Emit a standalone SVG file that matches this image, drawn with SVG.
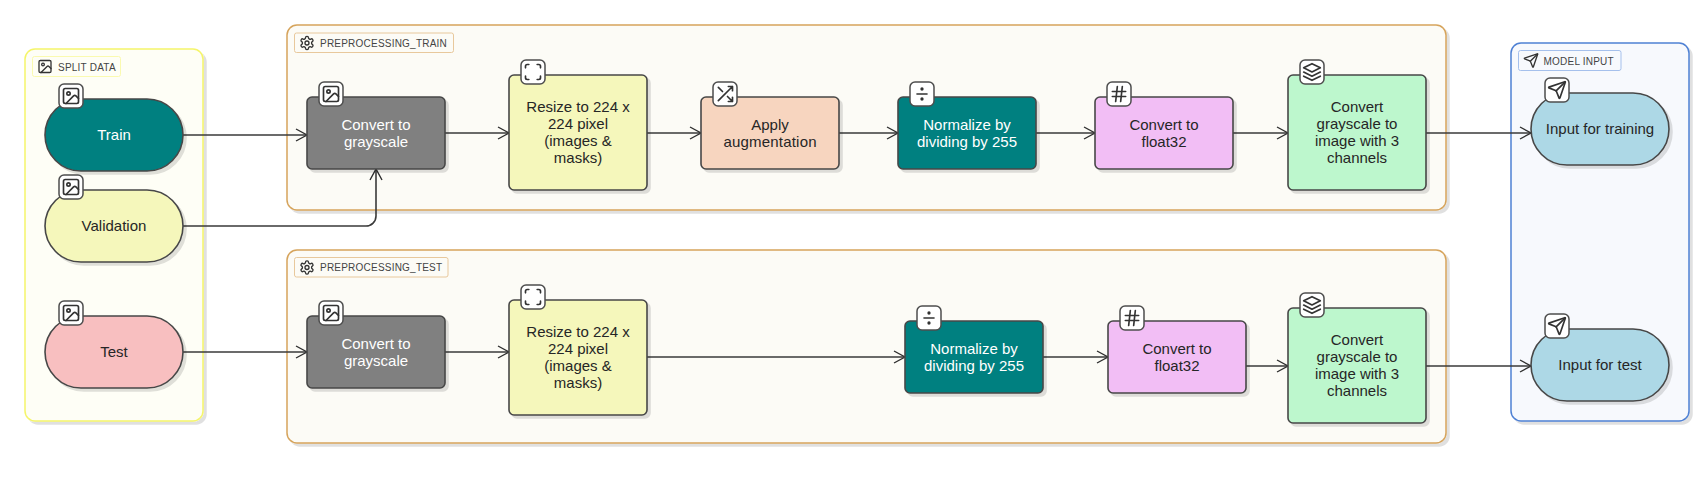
<svg xmlns="http://www.w3.org/2000/svg" width="1704" height="488" viewBox="0 0 1704 488">
<style>
text{font-family:"Liberation Sans",Arial,sans-serif}
.t{font-size:15px;fill:#262626;text-anchor:middle}
.w{fill:#fff}
.gl{font-size:10px;fill:#444;letter-spacing:.22px}
.n{stroke:#474747;stroke-width:1.6;filter:url(#sh)}
.g{stroke-width:1.5;filter:url(#sh)}
.l{stroke-width:1;}
.ib{fill:#fff;stroke:#4d4d4d;stroke-width:1.5}
.ic{fill:none;stroke:#333;stroke-width:2;stroke-linecap:round;stroke-linejoin:round}
.e{fill:none;stroke:#3a3a3a;stroke-width:1.6;marker-end:url(#a)}
</style>
<defs>
<filter id="sh" x="-5%" y="-5%" width="112%" height="112%"><feDropShadow dx="3" dy="3" stdDeviation="0.6" flood-color="#000" flood-opacity="0.12"/></filter>
<marker id="a" markerUnits="userSpaceOnUse" markerWidth="14" markerHeight="16" refX="12" refY="7" orient="auto"><path d="M1 1 L12 7 L1 13" fill="none" stroke="#2e2e2e" stroke-width="1.4"/></marker>
<symbol id="i-image" viewBox="0 0 24 24"><g class="ic"><rect x="3" y="3" width="18" height="18" rx="2"/><circle cx="9" cy="9" r="2"/><path d="m21 15-3.086-3.086a2 2 0 0 0-2.828 0L6 21"/></g></symbol>
<symbol id="i-scan" viewBox="0 0 24 24"><g class="ic"><path d="M3 7V5a2 2 0 0 1 2-2h2M17 3h2a2 2 0 0 1 2 2v2M21 17v2a2 2 0 0 1-2 2h-2M7 21H5a2 2 0 0 1-2-2v-2"/></g></symbol>
<symbol id="i-shuffle" viewBox="0 0 24 24"><g class="ic"><path d="M16 3h5v5M4 20 21 3M21 16v5h-5M15 15l6 6M4 4l5 5"/></g></symbol>
<symbol id="i-divide" viewBox="0 0 24 24"><g class="ic"><path d="M6 12h12"/><circle cx="12" cy="6" r="1"/><circle cx="12" cy="18" r="1"/></g></symbol>
<symbol id="i-hash" viewBox="0 0 24 24"><g class="ic"><path d="M4 9h16M4 15h16M10 3 8 21M16 3l-2 18"/></g></symbol>
<symbol id="i-layers" viewBox="0 0 24 24"><g class="ic"><path d="M12 2 2 7l10 5 10-5-10-5zM2 17l10 5 10-5M2 12l10 5 10-5"/></g></symbol>
<symbol id="i-send" viewBox="0 0 24 24"><g class="ic"><path d="M14.536 21.686a.5.5 0 0 0 .937-.024l6.5-19a.496.496 0 0 0-.635-.635l-19 6.5a.5.5 0 0 0-.024.937l7.93 3.18a2 2 0 0 1 1.112 1.11z"/><path d="m21.854 2.147-10.94 10.939"/></g></symbol>
<symbol id="i-gear" viewBox="0 0 24 24"><g class="ic"><path d="M12.22 2h-.44a2 2 0 0 0-2 2v.18a2 2 0 0 1-1 1.73l-.43.25a2 2 0 0 1-2 0l-.15-.08a2 2 0 0 0-2.73.73l-.22.38a2 2 0 0 0 .73 2.73l.15.1a2 2 0 0 1 1 1.72v.51a2 2 0 0 1-1 1.74l-.15.09a2 2 0 0 0-.73 2.73l.22.38a2 2 0 0 0 2.73.73l.15-.08a2 2 0 0 1 2 0l.43.25a2 2 0 0 1 1 1.73V20a2 2 0 0 0 2 2h.44a2 2 0 0 0 2-2v-.18a2 2 0 0 1 1-1.73l.43-.25a2 2 0 0 1 2 0l.15.08a2 2 0 0 0 2.73-.73l.22-.39a2 2 0 0 0-.73-2.73l-.15-.08a2 2 0 0 1-1-1.74v-.5a2 2 0 0 1 1-1.74l.15-.09a2 2 0 0 0 .73-2.73l-.22-.38a2 2 0 0 0-2.73-.73l-.15.08a2 2 0 0 1-2 0l-.43-.25a2 2 0 0 1-1-1.73V4a2 2 0 0 0-2-2z"/><circle cx="12" cy="12" r="3"/></g></symbol>
</defs>

<g id="group-split-data">
<rect class="g" x="25" y="49" width="178" height="372" rx="10" fill="#fefef6" stroke="#f5f56a"/>
<rect class="l" x="32.5" y="56.5" width="88" height="20" rx="2" fill="#fefef6" stroke="#fafab0"/>
<use href="#i-image" x="37" y="58.5" width="16" height="16"/>
<text class="gl" x="58" y="70.5">SPLIT DATA</text>
</g>
<g id="group-preprocessing-train">
<rect class="g" x="287" y="25" width="1159" height="185" rx="10" fill="#fcfbf6" stroke="#d6a45c"/>
<rect class="l" x="294.5" y="33" width="159" height="19.5" rx="2" fill="#fcfbf6" stroke="#e8c89c"/>
<use href="#i-gear" x="299" y="35" width="16" height="16"/>
<text class="gl" x="320" y="46.5">PREPROCESSING_TRAIN</text>
</g>
<g id="group-preprocessing-test">
<rect class="g" x="287" y="250" width="1159" height="193" rx="10" fill="#fcfbf6" stroke="#d6a45c"/>
<rect class="l" x="294.5" y="257.5" width="153.5" height="19.5" rx="2" fill="#fcfbf6" stroke="#e8c89c"/>
<use href="#i-gear" x="299" y="259.5" width="16" height="16"/>
<text class="gl" x="320" y="271">PREPROCESSING_TEST</text>
</g>
<g id="group-model-input">
<rect class="g" x="1511" y="43" width="178" height="378" rx="10" fill="#f7f9fd" stroke="#4f81d4"/>
<rect class="l" x="1518.5" y="50.5" width="102.5" height="20" rx="2" fill="#f7f9fd" stroke="#a5c0ec"/>
<use href="#i-send" x="1523" y="52.5" width="16" height="16"/>
<text class="gl" x="1543.5" y="64.5">MODEL INPUT</text>
</g>

<g id="connectors">
<path class="e" d="M183 135H307"/>
<path class="e" d="M183 226H366a10 10 0 0 0 10-10V169"/>
<path class="e" d="M183 352H307"/>
<path class="e" d="M445 133H509"/>
<path class="e" d="M647 133H701"/>
<path class="e" d="M839 133H898"/>
<path class="e" d="M1036 133H1095"/>
<path class="e" d="M1233 133H1288"/>
<path class="e" d="M1426 133H1531"/>
<path class="e" d="M445 352H509"/>
<path class="e" d="M647 357H905"/>
<path class="e" d="M1043 357H1108"/>
<path class="e" d="M1246 366H1288"/>
<path class="e" d="M1426 366H1531"/>
</g>

<g id="node-train"><rect class="n" x="45" y="99" width="138" height="72" rx="36" fill="#008080"/><rect class="ib" x="59" y="84" width="24" height="24" rx="5"/><use href="#i-image" x="61" y="86" width="20" height="20"/><text class="t w" x="114" y="140">Train</text></g>
<g id="node-validation"><rect class="n" x="45" y="190" width="138" height="72" rx="36" fill="#f5f7bb"/><rect class="ib" x="59" y="175" width="24" height="24" rx="5"/><use href="#i-image" x="61" y="177" width="20" height="20"/><text class="t" x="114" y="231">Validation</text></g>
<g id="node-test"><rect class="n" x="45" y="316" width="138" height="72" rx="36" fill="#f8bfc0"/><rect class="ib" x="59" y="301" width="24" height="24" rx="5"/><use href="#i-image" x="61" y="303" width="20" height="20"/><text class="t" x="114" y="357">Test</text></g>

<g id="node-train-gray"><rect class="n" x="307" y="97" width="138" height="72" rx="5" fill="#808080"/><rect class="ib" x="319" y="82" width="24" height="24" rx="5"/><use href="#i-image" x="321" y="84" width="20" height="20"/><text class="t w" x="376" y="130">Convert to</text><text class="t w" x="376" y="147">grayscale</text></g>
<g id="node-train-resize"><rect class="n" x="509" y="75" width="138" height="115" rx="5" fill="#f5f7bb"/><rect class="ib" x="521" y="60" width="24" height="24" rx="5"/><use href="#i-scan" x="523" y="62" width="20" height="20"/><text class="t" x="578" y="112">Resize to 224 x</text><text class="t" x="578" y="129">224 pixel</text><text class="t" x="578" y="146">(images &amp;</text><text class="t" x="578" y="163">masks)</text></g>
<g id="node-train-augment"><rect class="n" x="701" y="97" width="138" height="72" rx="5" fill="#f7d5bf"/><rect class="ib" x="713" y="82" width="24" height="24" rx="5"/><use href="#i-shuffle" x="715" y="84" width="20" height="20"/><text class="t" x="770" y="130">Apply</text><text class="t" x="770" y="147" textLength="93">augmentation</text></g>
<g id="node-train-normalize"><rect class="n" x="898" y="97" width="138" height="72" rx="5" fill="#008080"/><rect class="ib" x="910" y="82" width="24" height="24" rx="5"/><use href="#i-divide" x="912" y="84" width="20" height="20"/><text class="t w" x="967" y="130">Normalize by</text><text class="t w" x="967" y="147">dividing by 255</text></g>
<g id="node-train-float"><rect class="n" x="1095" y="97" width="138" height="72" rx="5" fill="#f2bef5"/><rect class="ib" x="1107" y="82" width="24" height="24" rx="5"/><use href="#i-hash" x="1109" y="84" width="20" height="20"/><text class="t" x="1164" y="130">Convert to</text><text class="t" x="1164" y="147">float32</text></g>
<g id="node-train-channels"><rect class="n" x="1288" y="75" width="138" height="115" rx="5" fill="#bdf7cd"/><rect class="ib" x="1300" y="60" width="24" height="24" rx="5"/><use href="#i-layers" x="1302" y="62" width="20" height="20"/><text class="t" x="1357" y="112">Convert</text><text class="t" x="1357" y="129">grayscale to</text><text class="t" x="1357" y="146">image with 3</text><text class="t" x="1357" y="163">channels</text></g>

<g id="node-test-gray"><rect class="n" x="307" y="316" width="138" height="72" rx="5" fill="#808080"/><rect class="ib" x="319" y="301" width="24" height="24" rx="5"/><use href="#i-image" x="321" y="303" width="20" height="20"/><text class="t w" x="376" y="349">Convert to</text><text class="t w" x="376" y="366">grayscale</text></g>
<g id="node-test-resize"><rect class="n" x="509" y="300" width="138" height="115" rx="5" fill="#f5f7bb"/><rect class="ib" x="521" y="285" width="24" height="24" rx="5"/><use href="#i-scan" x="523" y="287" width="20" height="20"/><text class="t" x="578" y="337">Resize to 224 x</text><text class="t" x="578" y="354">224 pixel</text><text class="t" x="578" y="371">(images &amp;</text><text class="t" x="578" y="388">masks)</text></g>
<g id="node-test-normalize"><rect class="n" x="905" y="321" width="138" height="72" rx="5" fill="#008080"/><rect class="ib" x="917" y="306" width="24" height="24" rx="5"/><use href="#i-divide" x="919" y="308" width="20" height="20"/><text class="t w" x="974" y="354">Normalize by</text><text class="t w" x="974" y="371">dividing by 255</text></g>
<g id="node-test-float"><rect class="n" x="1108" y="321" width="138" height="72" rx="5" fill="#f2bef5"/><rect class="ib" x="1120" y="306" width="24" height="24" rx="5"/><use href="#i-hash" x="1122" y="308" width="20" height="20"/><text class="t" x="1177" y="354">Convert to</text><text class="t" x="1177" y="371">float32</text></g>
<g id="node-test-channels"><rect class="n" x="1288" y="308" width="138" height="115" rx="5" fill="#bdf7cd"/><rect class="ib" x="1300" y="293" width="24" height="24" rx="5"/><use href="#i-layers" x="1302" y="295" width="20" height="20"/><text class="t" x="1357" y="345">Convert</text><text class="t" x="1357" y="362">grayscale to</text><text class="t" x="1357" y="379">image with 3</text><text class="t" x="1357" y="396">channels</text></g>

<g id="node-input-training"><rect class="n" x="1531" y="93" width="138" height="72" rx="36" fill="#add8e6"/><rect class="ib" x="1545" y="78" width="24" height="24" rx="5"/><use href="#i-send" x="1547" y="80" width="20" height="20"/><text class="t" x="1600" y="134">Input for training</text></g>
<g id="node-input-test"><rect class="n" x="1531" y="329" width="138" height="72" rx="36" fill="#add8e6"/><rect class="ib" x="1545" y="314" width="24" height="24" rx="5"/><use href="#i-send" x="1547" y="316" width="20" height="20"/><text class="t" x="1600" y="370">Input for test</text></g>
</svg>
